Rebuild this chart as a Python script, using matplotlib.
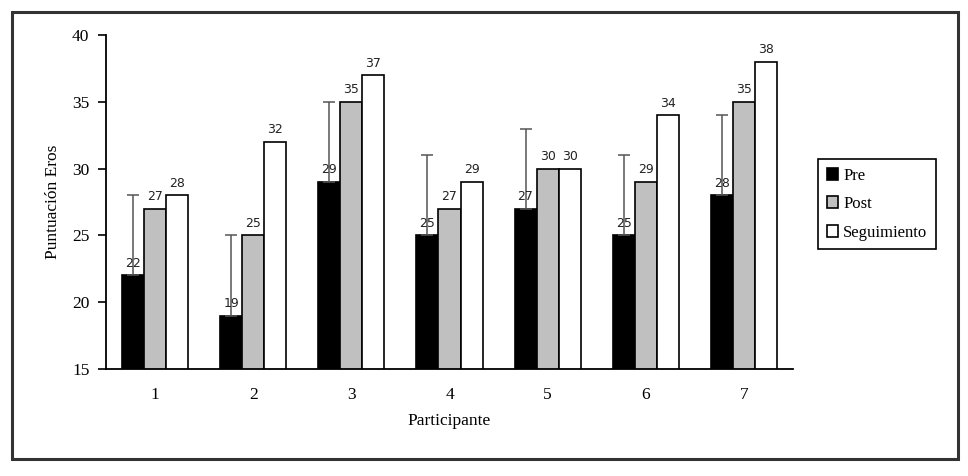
import numpy as np
import matplotlib.pyplot as plt
from matplotlib.patches import Rectangle

participantes = ['1', '2', '3', '4', '5', '6', '7']
pre = [22, 19, 29, 25, 27, 25, 28]
post = [27, 25, 35, 27, 30, 29, 35]
seguimiento = [28, 32, 37, 29, 30, 34, 38]
pre_err = [6, 6, 6, 6, 6, 6, 6]

plt.rcParams['font.family'] = ['Liberation Serif', 'DejaVu Serif']

fig = plt.figure(figsize=(9.68, 4.76), dpi=100)
ax = fig.add_axes([106/968, 1-369/476, (793-106)/968, (369-35)/476])

# outer frame round the whole chart
fig.patches.append(Rectangle((12/968, 1-459/476), 946/968, 447/476,
                             transform=fig.transFigure, fill=False,
                             edgecolor='#333333', linewidth=2.2))

x = np.arange(1, len(participantes) + 1)
w = 0.225
b1 = ax.bar(x - w, pre, w, color='black', edgecolor='black', lw=1.2, label='Pre')
b2 = ax.bar(x, post, w, color='#c0c0c0', edgecolor='black', lw=1.2, label='Post')
b3 = ax.bar(x + w, seguimiento, w, color='white', edgecolor='black', lw=1.2, label='Seguimiento')
ax.errorbar(x - w, pre, yerr=[np.zeros(len(pre)), pre_err], fmt='none',
            ecolor='#555555', elinewidth=1.1, capsize=4, capthick=1.1)

for bars, vals in [(b1, pre), (b2, post), (b3, seguimiento)]:
    for r, v in zip(bars, vals):
        ax.annotate(str(v), (r.get_x() + r.get_width()/2, v), xytext=(0, 4),
                    textcoords='offset points', ha='center', va='bottom',
                    fontsize=9, family='DejaVu Sans', color='#222222')

ax.set_xlim(0.5, 7.5)
ax.set_ylim(15, 40)
ax.set_yticks([15, 20, 25, 30, 35, 40])
ax.set_xticks(x)
ax.set_xticklabels(participantes)
ax.tick_params(axis='x', length=0, pad=13, labelsize=12.5)
ax.tick_params(axis='y', length=6, width=1.2, pad=6, labelsize=12.5, direction='out')
ax.spines['top'].set_visible(False)
ax.spines['right'].set_visible(False)
ax.spines['left'].set_linewidth(1.3)
ax.spines['bottom'].set_linewidth(1.3)
ax.set_ylabel('Puntuación Eros', fontsize=12.5, labelpad=8)
ax.set_xlabel('Participante', fontsize=12.5, labelpad=7)

leg = fig.legend(handles=[b1, b2, b3], loc='upper left',
                 bbox_to_anchor=(810/968, 1-151/476), fontsize=12,
                 fancybox=False, edgecolor='black', framealpha=1,
                 handlelength=0.7, handleheight=0.7, handletextpad=0.3,
                 labelspacing=0.75, borderpad=0.5)
leg.get_frame().set_linewidth(1.2)

fig.savefig('out.png', dpi=100)
